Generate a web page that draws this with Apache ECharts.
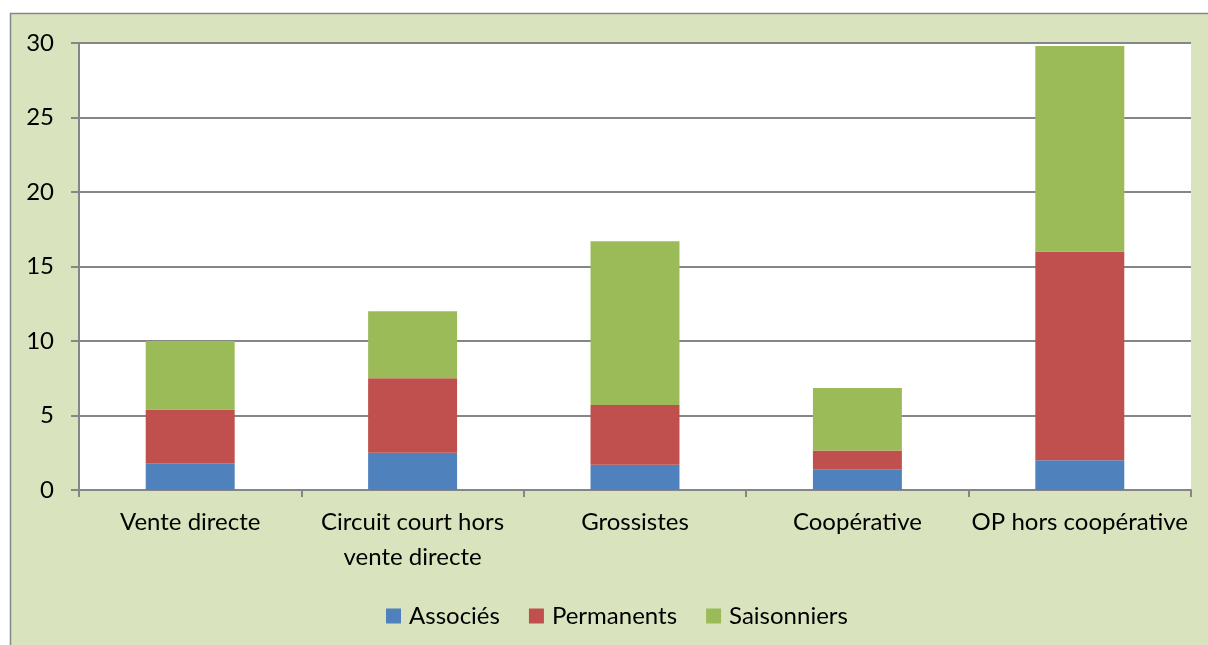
<!DOCTYPE html>
<html>
<head>
<meta charset="utf-8">
<script src="https://cdn.jsdelivr.net/npm/echarts@6/dist/echarts.min.js"></script>
<style>
  html, body { margin: 0; padding: 0; background: #fff; overflow: hidden; }
  #chart { width: 1208px; height: 645px; }
</style>
</head>
<body>
<div id="chart"></div>
<script>
// categories and values
var categories = ['Vente directe', 'Circuit court hors\nvente directe', 'Grossistes', 'Coopérative', 'OP hors coopérative'];
var associes = [1.8, 2.5, 1.7, 1.4, 2.0];
var permanents = [3.6, 5.0, 4.0, 1.25, 14.0];
var saisonniers = [4.6, 4.5, 11.0, 4.2, 13.8];
var yTicks = [0, 5, 10, 15, 20, 25, 30];

var font = 'Lato';
var axisGray = '#868686';

var chart = echarts.init(document.getElementById('chart'));

function barSeries(name, data, color) {
    return {
        name: name,
        type: 'bar',
        stack: 'total',
        data: data,
        barWidth: '40%',
        itemStyle: { color: color },
        emphasis: { disabled: true }
    };
}

var option = {
    animation: false,
    backgroundColor: '#ffffff',
    textStyle: { fontFamily: font },
    graphic: [{
        type: 'rect',
        z: -10,
        shape: { x: 10.5, y: 13.5, width: 1220, height: 660 },
        style: { fill: '#d9e4bf', stroke: axisGray, lineWidth: 1.5 }
    }],
    grid: {
        left: 79, right: 17, top: 43, bottom: 155,
        show: true, backgroundColor: '#ffffff', borderWidth: 0
    },
    legend: {
        left: 381, top: 599,
        itemWidth: 15, itemHeight: 15, itemGap: 29,
        icon: 'rect',
        textStyle: { fontFamily: font, fontSize: 24, color: '#000', padding: [0, 0, 0, 3] },
        data: ['Associés', 'Permanents', 'Saisonniers']
    },
    xAxis: {
        type: 'category',
        data: categories,
        axisLine: { lineStyle: { color: axisGray, width: 2 } },
        axisTick: { show: true, length: 7, lineStyle: { color: axisGray, width: 2 } },
        axisLabel: {
            interval: 0, margin: 15,
            fontFamily: font, fontSize: 24, lineHeight: 35, color: '#000'
        }
    },
    yAxis: {
        type: 'value',
        min: yTicks[0], max: yTicks[yTicks.length - 1], interval: 5,
        axisLine: { show: true, lineStyle: { color: axisGray, width: 2 } },
        axisTick: { show: true, length: 8, lineStyle: { color: axisGray, width: 2 } },
        axisLabel: { margin: 25, fontFamily: font, fontSize: 24, color: '#000' },
        splitLine: { lineStyle: { color: axisGray, width: 2 } }
    },
    series: [
        barSeries('Associés', associes, '#4f81bd'),
        barSeries('Permanents', permanents, '#c0504d'),
        barSeries('Saisonniers', saisonniers, '#9bbb59')
    ]
};

chart.setOption(option);
</script>
</body>
</html>
